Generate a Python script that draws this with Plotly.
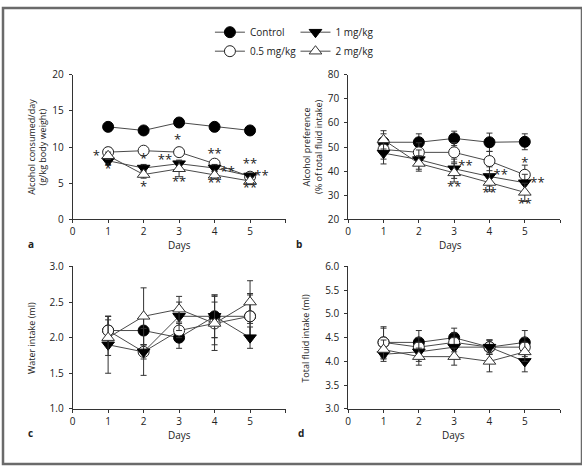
import plotly.graph_objects as go

W, H = 582, 471

days = [1, 2, 3, 4, 5]
series_names = ["Control", "0.5 mg/kg", "1 mg/kg", "2 mg/kg"]

# Panel a: alcohol consumed/day (g/kg body weight)
a_control = [12.8, 12.3, 13.4, 12.8, 12.3]
a_05 = [9.3, 9.5, 9.3, 7.7, 5.9]
a_1 = [8.1, 7.1, 7.7, 7.1, 6.0]
a_2 = [8.8, 6.2, 7.0, 6.1, 5.3]
a_control_err = [0.4, 0.4, 0.4, 0.6, 0.4]
a_05_err = [0.6, 0.5, 0.5, 0.5, 0.5]
a_1_err = [0.5, 0.5, 0.5, 0.5, 0.4]
a_2_err = [0.5, 0.5, 1.1, 0.5, 0.5]

# Panel b: alcohol preference (% of total fluid intake)
b_control = [52.0, 52.0, 53.6, 52.0, 52.2]
b_05 = [49.0, 47.8, 47.8, 44.2, 38.5]
b_1 = [47.5, 44.8, 41.0, 37.8, 35.2]
b_2 = [53.0, 43.2, 39.3, 35.3, 31.2]
b_control_err = [3.5, 3.5, 3.0, 3.8, 3.3]
b_05_err = [4.0, 4.0, 4.0, 4.0, 4.0]
b_1_err = [4.5, 4.0, 4.0, 4.0, 3.5]
b_2_err = [3.8, 3.2, 3.8, 3.6, 3.8]

# Panel c: water intake (ml)
c_control = [2.1, 2.1, 2.0, 2.3, 2.3]
c_05 = [2.1, 1.8, 2.1, 2.2, 2.3]
c_1 = [1.9, 1.8, 2.3, 2.3, 2.0]
c_2 = [2.0, 2.3, 2.4, 2.2, 2.5]
c_control_err = [0.2, 0.2, 0.15, 0.3, 0.3]
c_05_err = [0.2, 0.1, 0.1, 0.3, 0.32]
c_1_err = [0.4, 0.33, 0.2, 0.3, 0.15]
c_2_err = [0.25, 0.4, 0.18, 0.38, 0.3]

# Panel d: total fluid intake (ml)
d_control = [4.4, 4.4, 4.5, 4.3, 4.4]
d_05 = [4.4, 4.3, 4.4, 4.3, 4.3]
d_1 = [4.15, 4.2, 4.3, 4.3, 4.0]
d_2 = [4.25, 4.1, 4.1, 4.0, 4.2]
d_control_err = [0.3, 0.25, 0.2, 0.15, 0.25]
d_05_err = [0.33, 0.2, 0.2, 0.15, 0.2]
d_1_err = [0.15, 0.2, 0.2, 0.15, 0.22]
d_2_err = [0.2, 0.18, 0.18, 0.22, 0.2]

# Significance markers
ast_a_x = [0.67, 1.0, 2.0, 2.0, 2.96, 2.6, 3.0, 4.0, 4.37, 4.0, 5.0, 5.32, 5.0]
ast_a_y = [8.7, 6.9, 8.3, 4.4, 10.9, 8.1, 5.0, 8.9, 6.5, 4.9, 7.5, 5.9, 4.2]
ast_a_t = ["*", "*", "*", "*", "*", "**", "**", "**", "**", "**", "**", "**", "**"]

ast_b_x = [3.32, 3.0, 4.32, 4.0, 5.0, 5.36, 5.0]
ast_b_y = [42.0, 33.3, 38.3, 30.7, 43.0, 34.7, 26.0]
ast_b_t = ["**", "**", "**", "**", "*", "**", "**"]

x_ticks = [0, 1, 2, 3, 4, 5, 6]
x_ticktext = ["0", "1", "2", "3", "4", "5", ""]

FONT = "Open Sans"
LINE_COL = "#4a4a4a"

styles = [
    dict(symbol="circle", size=11, color="black", line=dict(color="black", width=1)),
    dict(symbol="circle", size=11, color="white", line=dict(color="#222", width=1)),
    dict(symbol="triangle-down", size=11, color="black", line=dict(color="black", width=1)),
    dict(symbol="triangle-up", size=11, color="white", line=dict(color="#333", width=1)),
]
legends = ["legend", "legend", "legend2", "legend2"]

panels = [
    ([a_control, a_05, a_1, a_2], [a_control_err, a_05_err, a_1_err, a_2_err]),
    ([b_control, b_05, b_1, b_2], [b_control_err, b_05_err, b_1_err, b_2_err]),
    ([c_control, c_05, c_1, c_2], [c_control_err, c_05_err, c_1_err, c_2_err]),
    ([d_control, d_05, d_1, d_2], [d_control_err, d_05_err, d_1_err, d_2_err]),
]

fig = go.Figure()

for p, (vals, errs) in enumerate(panels):
    xa = "x" if p == 0 else f"x{p+1}"
    ya = "y" if p == 0 else f"y{p+1}"
    for s in range(4):
        fig.add_trace(go.Scatter(
            x=days, y=vals[s], mode="lines+markers",
            name=series_names[s],
            xaxis=xa, yaxis=ya,
            line=dict(color=LINE_COL, width=1),
            marker=styles[s],
            error_y=dict(type="data", array=errs[s], visible=True,
                         color="#333", thickness=1, width=3),
            showlegend=(p == 0),
            legend=legends[s],
            cliponaxis=False,
            hoverinfo="skip",
        ))

# significance asterisks as text traces
for xs, ys, ts, xr, yr in [(ast_a_x, ast_a_y, ast_a_t, "x", "y"),
                           (ast_b_x, ast_b_y, ast_b_t, "x2", "y2")]:
    fig.add_trace(go.Scatter(
        x=xs, y=ys, text=ts, mode="text", xaxis=xr, yaxis=yr,
        textposition="middle center", showlegend=False, cliponaxis=False,
        textfont=dict(family=FONT, size=13, color="#222"), hoverinfo="skip",
    ))

def px2x(px):
    return px / W

def px2y(py):
    return 1 - py / H

dom = {
    1: ([70, 284], [69, 218.3]),
    2: ([347, 560], [69, 218.3]),
    3: ([70, 284], [267, 414]),
    4: ([347, 560], [267, 414]),
}
yranges = {1: [0, 20], 2: [20, 80], 3: [1.0, 3.0], 4: [3.0, 6.0]}
ytickvals = {1: [0, 5, 10, 15, 20], 2: [20, 30, 40, 50, 60, 70, 80],
             3: [1.0, 1.5, 2.0, 2.5, 3.0], 4: [3.0, 3.5, 4.0, 4.5, 5.0, 5.5, 6.0]}
ytickfmt = {1: "d", 2: "d", 3: ".1f", 4: ".1f"}

axcommon = dict(showgrid=False, zeroline=False, showline=True, linecolor="#333",
                linewidth=1, ticks="outside", ticklen=3, tickwidth=1, tickcolor="#333",
                tickfont=dict(family=FONT, size=10, color="#222"))

layout = dict(width=W, height=H, margin=dict(l=0, r=0, t=0, b=0),
              paper_bgcolor="white", plot_bgcolor="white",
              font=dict(family=FONT, size=10, color="#222"))

for i in range(1, 5):
    xk = "xaxis" if i == 1 else f"xaxis{i}"
    yk = "yaxis" if i == 1 else f"yaxis{i}"
    xd, yd = dom[i]
    layout[xk] = dict(domain=[px2x(xd[0]), px2x(xd[1])], range=[0, 6],
                      tickvals=x_ticks, ticktext=x_ticktext,
                      anchor="y" if i == 1 else f"y{i}", **axcommon)
    layout[yk] = dict(domain=[px2y(yd[1]), px2y(yd[0])], range=yranges[i],
                      tickvals=ytickvals[i], tickformat=ytickfmt[i],
                      ticklabelstandoff=3,
                      anchor="x" if i == 1 else f"x{i}", **axcommon)

layout["legend"] = dict(x=px2x(208), y=px2y(10), xanchor="left", yanchor="top",
                        bgcolor="rgba(0,0,0,0)", font=dict(family=FONT, size=10, color="#222"),
                        itemwidth=30, tracegroupgap=0)
layout["legend2"] = dict(x=px2x(294), y=px2y(10), xanchor="left", yanchor="top",
                         bgcolor="rgba(0,0,0,0)", font=dict(family=FONT, size=10, color="#222"),
                         itemwidth=30, tracegroupgap=0)

fig.update_layout(**layout)

annotations = []
ytitles = [
    ("Alcohol consumed/day<br>(g/kg body weight)", 34, 143.6),
    ("Alcohol preference<br>(% of total fluid intake)", 310.5, 143.6),
    ("Water intake (ml)", 28.5, 340.5),
    ("Total fluid intake (ml)", 304.5, 340.5),
]
for txt, xp, yp in ytitles:
    annotations.append(dict(text=txt, x=px2x(xp), y=px2y(yp), xref="paper", yref="paper",
                            textangle=-90, showarrow=False, xanchor="center", yanchor="middle",
                            font=dict(family=FONT, size=9, color="#222")))
for xp, yp in [(177, 245), (450, 245), (177, 441), (453, 441)]:
    annotations.append(dict(text="Days", x=px2x(xp), y=px2y(yp), xref="paper", yref="paper",
                            xanchor="center", yanchor="middle",
                            showarrow=False, font=dict(family=FONT, size=10, color="#222")))
for lab, xp, yp in [("a", 28, 244), ("b", 298, 244), ("c", 28, 439), ("d", 300, 439)]:
    annotations.append(dict(text="<b>" + lab + "</b>", x=px2x(xp), y=px2y(yp), xref="paper",
                            yref="paper", showarrow=False, xanchor="center", yanchor="middle",
                            font=dict(family=FONT, size=10, color="#222")))

fig.update_layout(annotations=annotations)

fig.add_shape(type="rect", xref="paper", yref="paper", x0=0, y0=0, x1=1, y1=1,
              line=dict(color="#6a6a6a", width=2.5), fillcolor="rgba(0,0,0,0)")

fig.write_html("out.html", config={"displayModeBar": False},
               post_script="document.body.style.margin='0';document.body.style.overflow='hidden';")
